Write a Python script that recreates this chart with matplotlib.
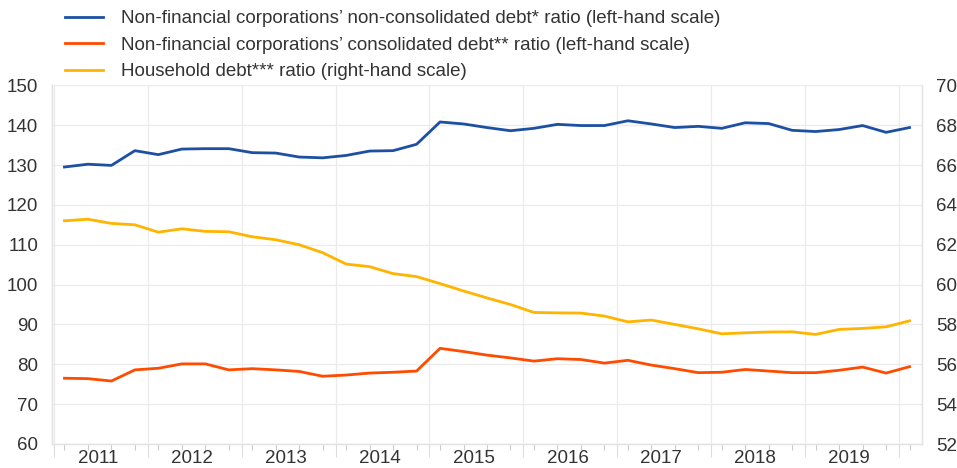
import numpy as np
import matplotlib
matplotlib.use('Agg')
import matplotlib.pyplot as plt
from matplotlib.lines import Line2D

plt.rcParams['font.family'] = ['Liberation Sans', 'DejaVu Sans']

# quarterly observations 2011Q1 - 2020Q1
quarters = [f'{y}Q{q}' for y in range(2011, 2020) for q in range(1, 5)] + ['2020Q1']

nfc_nonconsolidated = [129.5, 130.2, 129.9, 133.6, 132.6, 134.0, 134.1, 134.1, 133.1, 133.0,
                       132.0, 131.8, 132.4, 133.5, 133.6, 135.2, 140.8, 140.3, 139.4, 138.6,
                       139.2, 140.2, 139.9, 139.9, 141.1, 140.3, 139.4, 139.7, 139.2, 140.6,
                       140.4, 138.7, 138.4, 138.9, 139.9, 138.2, 139.4]

nfc_consolidated = [76.5, 76.4, 75.8, 78.6, 79.0, 80.1, 80.1, 78.6, 78.9, 78.6,
                    78.2, 77.0, 77.3, 77.8, 78.0, 78.3, 84.0, 83.2, 82.3, 81.6,
                    80.8, 81.4, 81.2, 80.3, 81.0, 79.8, 78.9, 77.9, 78.0, 78.7,
                    78.3, 77.9, 77.9, 78.5, 79.3, 77.8, 79.4]

household = [63.2, 63.28, 63.07, 63.0, 62.63, 62.8, 62.67, 62.65, 62.4, 62.25,
             62.0, 61.6, 61.03, 60.9, 60.55, 60.4, 60.05, 59.68, 59.33, 59.0,
             58.6, 58.58, 58.57, 58.42, 58.13, 58.22, 58.0, 57.78, 57.53, 57.58,
             57.62, 57.63, 57.5, 57.75, 57.8, 57.88, 58.18]

years = list(range(2011, 2020))

labels = ["Non-financial corporations\u2019 non-consolidated debt* ratio (left-hand scale)",
          "Non-financial corporations\u2019 consolidated debt** ratio (left-hand scale)",
          "Household debt*** ratio (right-hand scale)"]
colors = ['#1d4fa3', '#ff4b00', '#ffb400']

x = np.array([int(s[:4]) + (int(s[-1]) - 0.55) / 4 for s in quarters])

fig = plt.figure(figsize=(9.57, 4.68), dpi=100)
ax = fig.add_axes([52 / 957, 1 - 444 / 468, 870 / 957, (444 - 85.3) / 468])
ax2 = ax.twinx()

ax.plot(x, nfc_nonconsolidated, color=colors[0], lw=2.0, zorder=3)
ax.plot(x, nfc_consolidated, color=colors[1], lw=2.0, zorder=3)
ax2.plot(x, household, color=colors[2], lw=2.0, zorder=3)

ax.set_xlim(2010.98, 2020.245)
ax.set_ylim(60, 150)
ax.set_yticks(range(60, 151, 10))
ax2.set_ylim(52, 70)
ax2.set_yticks(range(52, 71, 2))

# year boundaries as major ticks, quarters as minor ticks
ax.set_xticks(range(2011, 2021))
ax.set_xticklabels([])
ax.set_xticks(x, minor=True)
ax.tick_params(axis='x', which='major', length=9, color='#dddddd', width=0.8)
ax.tick_params(axis='x', which='minor', length=4, color='#cccccc', width=0.8)
for yr in years:
    ax.text(yr + 0.47, -0.018, str(yr), transform=ax.get_xaxis_transform(),
            ha='center', va='top', fontsize=13.5, color='#333333')

ax.tick_params(axis='y', length=0, pad=10, labelsize=13.5, labelcolor='#333333')
ax2.tick_params(axis='y', length=0, pad=10, labelsize=13.5, labelcolor='#333333')

ax.grid(True, which='major', color='#ebebeb', lw=0.9)
ax.set_axisbelow(True)
for a in (ax, ax2):
    for s in a.spines.values():
        s.set_color('#e3e3e3')
        s.set_linewidth(0.9)
    a.spines['top'].set_visible(False)

handles = [Line2D([], [], color=c, lw=2.0) for c in colors]
fig.legend(handles, labels, loc='upper left', bbox_to_anchor=(65 / 957, 1 - 10 / 468),
           frameon=False, fontsize=13.5, handlelength=2.0, handletextpad=1.0,
           labelspacing=0.5, labelcolor='#333333', borderaxespad=0, borderpad=0)

fig.savefig('out.png', dpi=100)
